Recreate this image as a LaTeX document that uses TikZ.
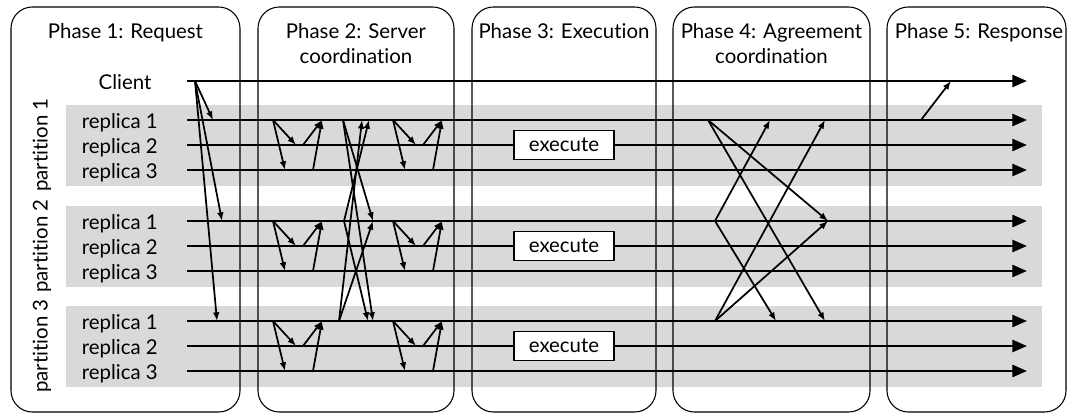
\documentclass[tikz,border=0pt]{standalone}
\usepackage{fontspec}
\setmainfont{Lato}[Ligatures=NoCommon]
\usetikzlibrary{arrows.meta}
\begin{document}
\begin{tikzpicture}[x=0.75pt,y=-0.75pt,
  band/.style={fill=black!15,draw=none},
  phasebox/.style={draw=black,line width=0.8pt,rounded corners=16pt},
  timeline/.style={line width=1.9pt,-{Triangle[length=11pt,width=9pt]}},
  msg/.style={line width=1.3pt,-{Latex[length=6.5pt,width=5pt]}},
  lbl/.style={font=\fontsize{15.3}{18}\selectfont,inner sep=0pt},
  execbox/.style={draw=black,fill=white,line width=1.3pt,font=\fontsize{15.3}{18}\selectfont,
    minimum width=75pt,minimum height=21.75pt,inner sep=0pt}]
\useasboundingbox (0,0) rectangle (1067,414);

% grey bands behind the three partitions
\foreach \p/\b in {1/120,2/221,3/321}
  \fill[band] (66,\b-15) rectangle (1042,\b+66);

% phase frames
\draw[phasebox] (11,7) rectangle (240,412);
\draw[phasebox] (258,7) rectangle (454,412);
\draw[phasebox] (472,7) rectangle (656,412);
\draw[phasebox] (673,7) rectangle (870,412);
\draw[phasebox] (887,7) rectangle (1066,412);

% phase titles
\node[lbl,anchor=base] (t1) at (125.5,38) {Phase 1: Request};
\node[lbl,anchor=base] (t2a) at (356,38) {Phase 2: Server};
\node[lbl,anchor=base] (t2b) at (356,63) {coordination};
\node[lbl,anchor=base] (t3) at (564,38) {Phase 3: Execution};
\node[lbl,anchor=base] (t4a) at (771.5,38) {Phase 4: Agreement};
\node[lbl,anchor=base] (t4b) at (771.5,63) {coordination};
\node[lbl,anchor=base] (t5) at (979,38) {Phase 5: Response};

% client timeline
\node[lbl,anchor=base] (client) at (125,89) {Client};
\coordinate (cs) at (187,81);
\coordinate (ce) at (1027,81);
\draw[timeline] (cs) -- (ce);

% replica timelines, labels and partition names
\foreach \p/\b in {1/120,2/221,3/321} {
  \node[lbl,rotate=90] (part\p) at (42,\b+25) {partition \p};
  \foreach \r in {1,2,3} {
    \coordinate (s\p\r) at (187,{\b+25*(\r-1)});
    \coordinate (e\p\r) at (1027,{\b+25*(\r-1)});
    \node[lbl,anchor=base east] (n\p\r) at (158,{\b+25*(\r-1)+8}) {replica \r};
    \draw[timeline] (s\p\r) -- (e\p\r);
  }
  \node[execbox] (exec\p) at (564,\b+25) {execute};
}

% phase 1: client request to each partition
\coordinate (req) at (195,81);
\coordinate (in1) at (213,120);
\coordinate (in2) at (222,221);
\coordinate (in3) at (217,321);
\foreach \p in {1,2,3} \draw[msg] (req) -- (in\p);

% phase 2: two intra-partition rounds
\foreach \p/\b in {1/120,2/221,3/321}
  \foreach \dx in {0,120} {
    \coordinate (g\p-\dx-a) at (273+\dx,\b);
    \coordinate (g\p-\dx-b) at (296+\dx,\b+25);
    \coordinate (g\p-\dx-c) at (285+\dx,\b+50);
    \coordinate (g\p-\dx-d) at (303+\dx,\b+25);
    \coordinate (g\p-\dx-f) at (313+\dx,\b+50);
    \coordinate (g\p-\dx-g) at (322+\dx,\b);
    \draw[msg] (g\p-\dx-a) -- (g\p-\dx-b);
    \draw[msg] (g\p-\dx-a) -- (g\p-\dx-c);
    \draw[msg] (g\p-\dx-d) -- (g\p-\dx-g);
    \draw[msg] (g\p-\dx-f) -- (g\p-\dx-g);
  }

% phase 2: exchange between partition leaders
\coordinate (x1) at (343,120);
\coordinate (x2) at (344,221);
\coordinate (x3) at (339,321);
\coordinate (x1from2) at (369,120);
\coordinate (x1from3) at (362,120);
\coordinate (x2in) at (373,221);
\coordinate (x3from1) at (373,321);
\coordinate (x3from2) at (368,321);
\draw[msg] (x1) -- (x2in);
\draw[msg] (x1) -- (x3from1);
\draw[msg] (x2) -- (x1from2);
\draw[msg] (x2) -- (x3from2);
\draw[msg] (x3) -- (x2in);
\draw[msg] (x3) -- (x1from3);

% phase 4: agreement between partition leaders
\coordinate (a1) at (708,120);
\coordinate (a2) at (715,221);
\coordinate (a3) at (715,321);
\coordinate (a1from2) at (770,120);
\coordinate (a1from3) at (825,120);
\coordinate (a2in) at (828,221);
\coordinate (a3from1) at (825,321);
\coordinate (a3from2) at (776,321);
\draw[msg] (a1) -- (a2in);
\draw[msg] (a1) -- (a3from1);
\draw[msg] (a2) -- (a1from2);
\draw[msg] (a2) -- (a3from2);
\draw[msg] (a3) -- (a1from3);
\draw[msg] (a3) -- (a2in);

% phase 5: reply to the client
\coordinate (rep) at (921,120);
\coordinate (rep-in) at (951,81);
\draw[msg] (rep) -- (rep-in);
\end{tikzpicture}
\end{document}
